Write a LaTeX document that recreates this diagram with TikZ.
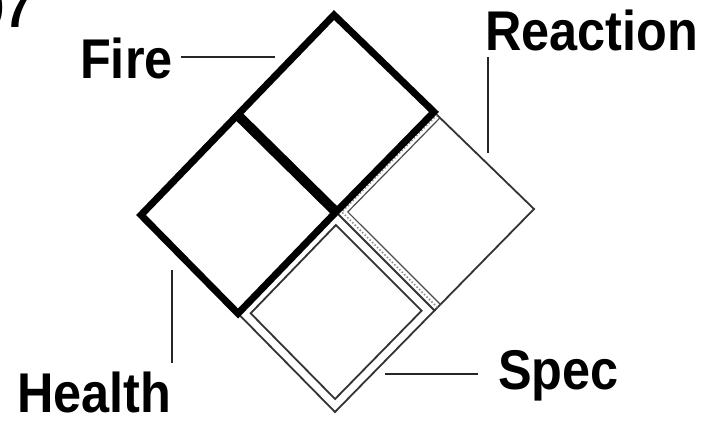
\documentclass[tikz,border=0pt]{standalone}
\usepackage{fontspec}
\setmainfont{Liberation Sans}
\usetikzlibrary{calc}
\tikzset{
  lbl/.style={anchor=base west, inner sep=0pt, font=\fontsize{56}{60}\selectfont\bfseries},
  leader/.style={line width=1.6pt, black!85},
  heavy/.style={line width=7pt, line join=miter, black},
  sepline/.style={line width=10pt, black, line cap=butt},
  thinbox/.style={line width=1.8pt, black!80, line join=miter},
  stip/.style={line width=1.5pt, black!45, dotted},
}
\begin{document}
\begin{tikzpicture}[x=1pt,y=-1pt]
\useasboundingbox (0,0) rectangle (701,424);
\fill[white] (0,0) rectangle (701,424);
% diamond corners
\coordinate (T) at (334,15);
\coordinate (L) at (141,215);
\coordinate (R) at (534,209);
\coordinate (B) at (335,412);
\coordinate (C) at (336,212);
\coordinate (TL) at ($(T)!0.5!(L)$);
\coordinate (TR) at ($(T)!0.5!(R)$);
\coordinate (BL) at ($(B)!0.5!(L)$);
\coordinate (BR) at ($(B)!0.5!(R)$);
\coordinate (SC) at ($(C)!0.5!(B)$);
% Spec: double outline
\draw[thinbox] (C) -- (BR) -- (B) -- (BL) -- cycle;
\draw[thinbox] ($(SC)!0.87!(C)$) -- ($(SC)!0.87!(BR)$) -- ($(SC)!0.87!(B)$) -- ($(SC)!0.87!(BL)$) -- cycle;
% Reaction: thin outline with stippled inner band
\draw[thinbox] (TR) -- (R) -- (BR);
\draw[stip] ($(TR)!0.03!(R)$) -- ($0.94*(C)+0.03*(BR)+0.03*(TR)$) -- ($(BR)!0.03!(R)$);
\draw[line width=1.2pt, black!70] ($(TR)!0.06!(R)$) -- ($0.88*(C)+0.06*(BR)+0.06*(TR)$) -- ($(BR)!0.06!(R)$);
% Fire and Health: heavy outline
\draw[heavy] (T) -- (TR) -- (C) -- (BL) -- (L) -- (TL) -- cycle;
\draw[sepline] (TL) -- (C);
% labels
\node[lbl] (fire) at (80,78) {\scalebox{0.9}[1]{Fire}};
\node[lbl] (reaction) at (485,50) {\scalebox{0.9}[1]{Reaction}};
\node[lbl] (health) at (17,412) {\scalebox{0.9}[1]{Health}};
\node[lbl] (spec) at (498,389) {\scalebox{0.9}[1]{Spec}};
\node[lbl, anchor=base east] (frag) at (33,27) {\scalebox{0.9}[1]{97}};
% leader lines
\coordinate (fireEnd) at (275,57);
\coordinate (reactEnd) at (488,153);
\coordinate (healthEnd) at (172,270);
\coordinate (specEnd) at (385,374);
\draw[leader] (fire.east |- fireEnd) ++(8,0) -- (fireEnd);
\draw[leader] (reactEnd |- reaction.south) ++(0,6) -- (reactEnd);
\draw[leader] (healthEnd |- health.north) ++(0,-8) -- (healthEnd);
\draw[leader] (spec.west |- specEnd) ++(-20,0) -- (specEnd);
\end{tikzpicture}
\end{document}
